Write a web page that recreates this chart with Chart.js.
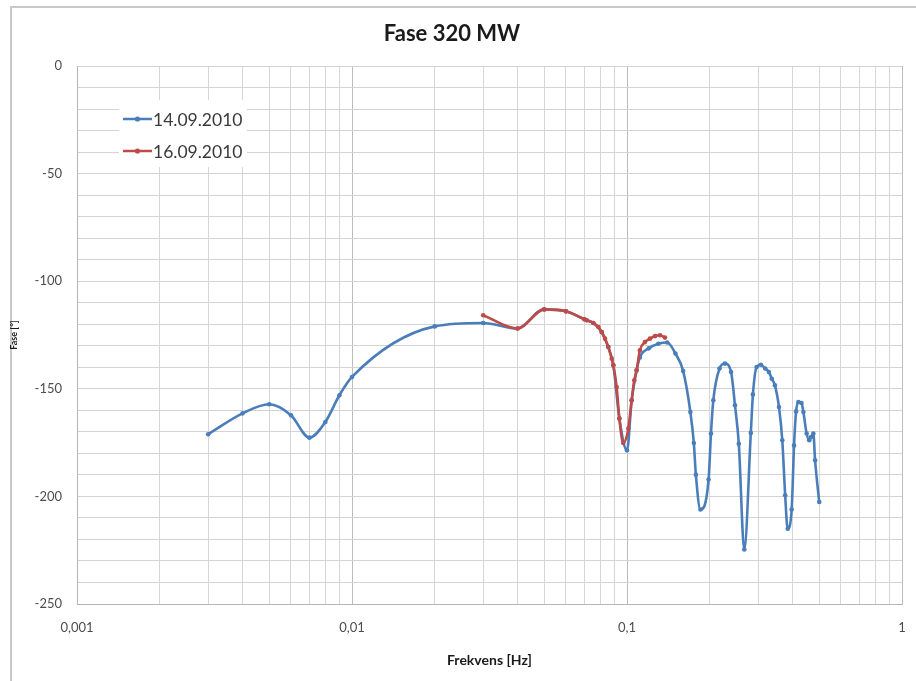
<!DOCTYPE html>
<html><head><meta charset="utf-8">
<script src="https://cdn.jsdelivr.net/npm/chart.js@4.4.0/dist/chart.umd.min.js"></script>
<style>html,body{margin:0;padding:0;background:#fff;overflow:hidden}canvas{display:block}</style>
</head><body>
<canvas id="c" width="916" height="681"></canvas>
<script>
const chartTitle = 'Fase 320 MW';
const xAxisTitle = 'Frekvens [Hz]';
const yAxisTitle = 'Fase [°]';
const seriesNames = ['14.09.2010', '16.09.2010'];

const blueFreq = [0.003,0.004,0.005,0.006,0.007,0.008,0.009,0.01,0.02,0.03,0.04,0.05,0.06,0.07,0.0754,0.0809,0.0855,0.0892,0.0938,0.1,0.104,0.1084,0.1114,0.12,0.13,0.14,0.15,0.16,0.17,0.175,0.178,0.185,0.198,0.202,0.206,0.217,0.227,0.239,0.247,0.255,0.267,0.282,0.287,0.296,0.307,0.318,0.328,0.336,0.345,0.357,0.367,0.376,0.384,0.397,0.405,0.412,0.42,0.431,0.438,0.45,0.46,0.467,0.476,0.483,0.5];
const bluePhase = [-171.1,-161.4,-157.2,-162.3,-172.7,-165.4,-153,-144.5,-121,-119.4,-122,-113.1,-114,-117.7,-119.4,-123.6,-130.6,-139.1,-163.8,-178.6,-155.3,-141.4,-135.4,-131.2,-129.1,-128.5,-133.6,-141.7,-160.8,-175.2,-189.9,-206.1,-192.2,-170.8,-155.3,-140.6,-138.3,-142.2,-157.7,-175.5,-224.7,-170.5,-152.6,-139.9,-138.8,-140.6,-142.2,-145.3,-148.4,-158.5,-173.9,-199.5,-215,-206.1,-176.3,-160.5,-156.1,-156.6,-160.8,-170.8,-173.9,-172.4,-170.8,-183.2,-202.6];

const redFreq = [0.03,0.04,0.05,0.06,0.07,0.0714,0.0754,0.0787,0.0809,0.0832,0.0855,0.088,0.0892,0.0917,0.0938,0.0969,0.1011,0.104,0.1063,0.1084,0.1114,0.1162,0.1212,0.1265,0.1319,0.1374];
const redPhase = [-115.8,-122,-113.1,-114,-117.7,-118.2,-119.4,-121.3,-123.6,-126.7,-130.6,-136,-139.1,-149.2,-163.8,-175.2,-168.5,-155.3,-146,-141.4,-132.1,-128.3,-126.7,-125.5,-125.1,-126.2];

const xMajorTicks = [0.001, 0.01, 0.1, 1];
const xMajorLabels = ['0,001', '0,01', '0,1', '1'];
const xMinorMultipliers = [2,3,4,5,6,7,8,9];
const yMin = -250, yMax = 0, yGridStep = 10, yLabelStep = 50;

const xTickValues = [];
xMajorTicks.forEach((m, i) => {
  xTickValues.push(m);
  if (i < xMajorTicks.length - 1) xMinorMultipliers.forEach(k => xTickValues.push(+(m * k).toPrecision(6)));
});
const majorIndex = v => xMajorTicks.findIndex(m => Math.abs(v - m) < m * 1e-6);

const blueColor = '#4a7ebb';
const redColor = '#be4b48';
const FONT = 'Lato, "Open Sans", "DejaVu Sans", sans-serif';

const toXY = (xs, ys) => xs.map((x, i) => ({x, y: ys[i]}));

const framePlugin = {
  id: 'frame',
  beforeDraw(chart) {
    const ctx = chart.ctx;
    ctx.save();
    ctx.fillStyle = '#ffffff';
    ctx.fillRect(0, 0, chart.width, chart.height);
    ctx.strokeStyle = '#c9c9c9';
    ctx.lineWidth = 2;
    ctx.beginPath();
    ctx.moveTo(11, chart.height);
    ctx.lineTo(11, 7);
    ctx.lineTo(chart.width, 7);
    ctx.stroke();
    ctx.restore();
  }
};

const legendPlugin = {
  id: 'insideLegend',
  afterDraw(chart) {
    const ctx = chart.ctx;
    ctx.save();
    ctx.fillStyle = '#ffffff';
    ctx.fillRect(119, 100, 128, 67);
    const rows = [119, 151];
    chart.data.datasets.forEach((ds, i) => {
      const y = rows[i];
      ctx.strokeStyle = ds.borderColor;
      ctx.lineWidth = 2.5;
      ctx.beginPath();
      ctx.moveTo(123, y);
      ctx.lineTo(152, y);
      ctx.stroke();
      ctx.fillStyle = ds.borderColor;
      ctx.beginPath();
      ctx.arc(137.5, y, 2.6, 0, Math.PI * 2);
      ctx.fill();
      ctx.fillStyle = '#3a3a3a';
      ctx.font = '17.5px ' + FONT;
      ctx.textBaseline = 'middle';
      ctx.textAlign = 'left';
      ctx.fillText(ds.label, 153, y + 1);
    });
    ctx.restore();
  }
};

new Chart(document.getElementById('c'), {
  type: 'line',
  data: {
    datasets: [
      {
        label: seriesNames[0],
        data: toXY(blueFreq, bluePhase),
        borderColor: blueColor,
        backgroundColor: blueColor,
        pointBackgroundColor: blueColor,
        pointBorderColor: blueColor,
        borderWidth: 2.6,
        pointRadius: 2.3,
        pointBorderWidth: 0,
        cubicInterpolationMode: 'monotone',
        fill: false,
        order: 1
      },
      {
        label: seriesNames[1],
        data: toXY(redFreq, redPhase),
        borderColor: redColor,
        backgroundColor: redColor,
        pointBackgroundColor: redColor,
        pointBorderColor: redColor,
        borderWidth: 2.6,
        pointRadius: 2.3,
        pointBorderWidth: 0,
        cubicInterpolationMode: 'monotone',
        fill: false,
        order: 0
      }
    ]
  },
  options: {
    responsive: false,
    animation: false,
    events: [],
    layout: { padding: { left: 2, right: 14, top: 0, bottom: 0 } },
    plugins: {
      legend: { display: false },
      tooltip: { enabled: false },
      title: {
        display: true,
        text: chartTitle,
        color: '#1a1a1a',
        font: { family: FONT, size: 22, weight: 'bold' },
        padding: { top: 20.5, bottom: 19.1 }
      }
    },
    scales: {
      x: {
        type: 'logarithmic',
        min: 0.001,
        max: 1,
        afterBuildTicks: s => { s.ticks = xTickValues.map(v => ({ value: v, major: majorIndex(v) >= 0 })); },
        afterFit: s => { s.height = 77; s.paddingLeft = 0; s.paddingRight = 0; },
        ticks: {
          autoSkip: false,
          maxRotation: 0,
          minRotation: 0,
          padding: 16,
          color: '#4d4d4d',
          font: { family: FONT, size: 13 },
          callback: v => { const i = majorIndex(v); return i >= 0 ? xMajorLabels[i] : ''; }
        },
        grid: {
          drawTicks: false,
          color: ctx => (ctx.tick && majorIndex(ctx.tick.value) >= 0) ? '#bcbcbc' : '#d6d6d6',
          lineWidth: 1
        },
        border: { display: true, color: '#b5b5b5', width: 1 },
        title: {
          display: true,
          text: xAxisTitle,
          color: '#1a1a1a',
          font: { family: FONT, size: 14, weight: 'bold' },
          padding: { top: 0, bottom: 12 }
        }
      },
      y: {
        type: 'linear',
        min: yMin,
        max: yMax,
        afterFit: s => { s.width = 75; },
        ticks: {
          stepSize: yGridStep,
          autoSkip: false,
          padding: 15,
          color: '#4d4d4d',
          font: { family: FONT, size: 13 },
          callback: v => (v % yLabelStep === 0 ? String(v) : '')
        },
        grid: {
          drawTicks: false,
          color: '#d3d3d3',
          lineWidth: 1
        },
        border: { display: true, color: '#b5b5b5', width: 1 },
        title: {
          display: true,
          text: yAxisTitle,
          color: '#1a1a1a',
          font: { family: FONT, size: 9, weight: 'bold' },
          padding: { top: 7, bottom: 0 }
        }
      }
    }
  },
  plugins: [framePlugin, legendPlugin]
});
</script>
</body></html>
